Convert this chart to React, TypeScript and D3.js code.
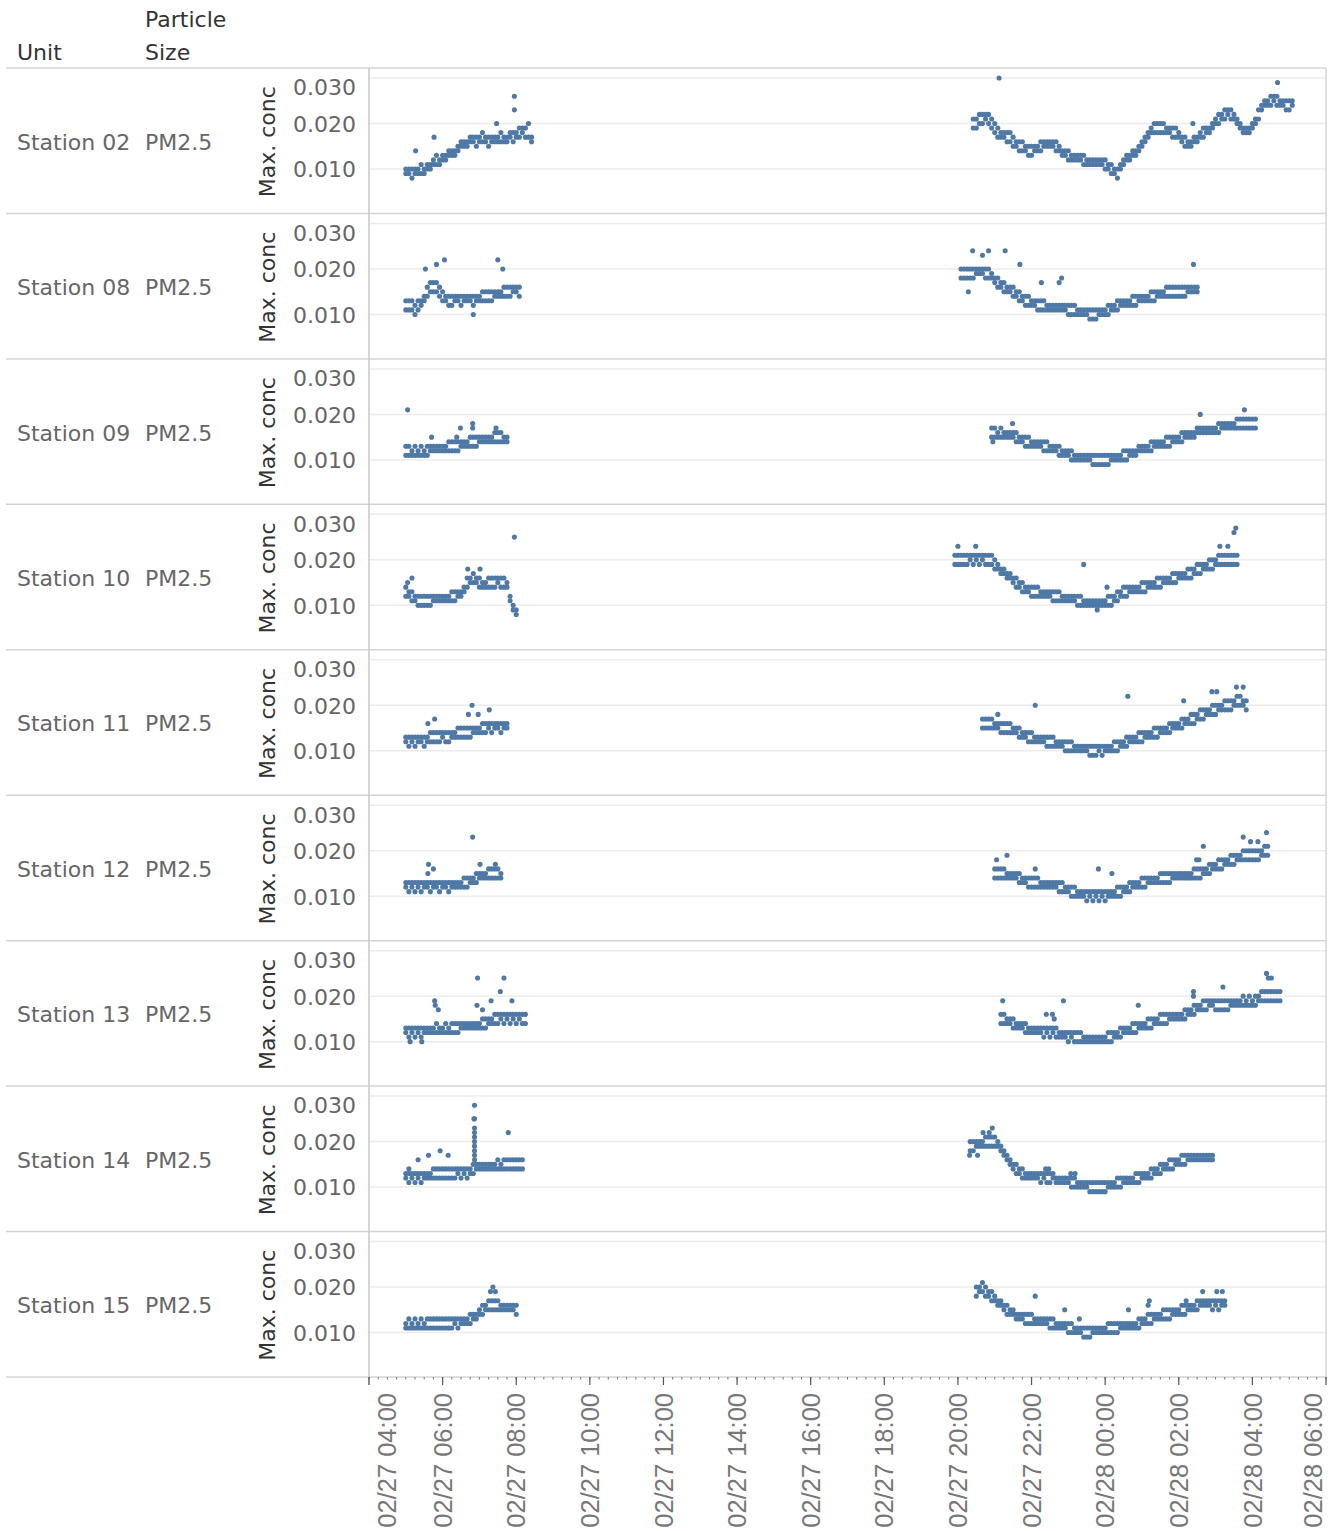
import React from "react";
import * as d3 from "d3";

const parseTime = d3.timeParse("%m/%d %H:%M");
const fmtTick = d3.timeFormat("%m/%d %H:%M");

const unitLabels = ["Station 02", "Station 08", "Station 09", "Station 10", "Station 11", "Station 12", "Station 13", "Station 14", "Station 15"];
const particleSize = "PM2.5";
const yTickValues = [0.01, 0.02, 0.03];
const xDomain = ["02/27 04:00", "02/28 06:00"];

// Max. conc readings, in units of 0.001, one pair (band low / band high) every 5 minutes
const st02Start = ["02/27 05:00", "02/27 20:25"];
const st02EarlyLo = [9,9,8,9,9,9,9,10,10,11,11,11,12,12,13,13,13,14,15,15,15,16,16,15,16,16,16,15,16,16,16,16,16,16,17,16,17,17,18,17,17,16];
const st02EarlyHi = [10,10,10,10,10,11,10,11,11,12,13,12,13,13,14,14,14,15,16,16,16,17,17,17,17,18,17,17,17,17,17,18,17,17,18,18,18,19,19,19,20,17];
const st02LateLo = [19,19,20,20,21,20,19,18,17,17,17,16,16,15,15,14,14,14,13,13,14,14,14,15,15,15,15,14,14,13,13,12,12,12,12,12,11,11,11,11,11,11,11,10,10,9,9,8,10,11,12,12,13,13,14,15,16,17,18,18,18,18,18,18,18,17,17,17,16,15,15,15,16,16,17,17,18,18,19,20,20,21,21,22,21,21,20,19,18,18,18,19,20,21,23,24,24,24,25,24,24,24,23,23,24];
const st02LateHi = [21,21,22,22,22,22,21,20,19,18,18,18,18,17,16,16,16,15,15,15,15,15,16,16,16,16,16,16,15,14,14,14,13,13,13,13,13,12,12,12,12,12,12,12,11,11,10,10,11,12,13,13,14,14,15,16,17,18,19,20,20,20,20,19,19,19,19,18,17,17,16,16,17,17,18,19,19,19,20,21,22,22,23,23,23,22,21,20,19,19,19,20,21,23,24,25,25,26,26,26,25,25,25,25,25];
const st02Outliers: [string, number][] = [["02/27 05:16", 14], ["02/27 05:46", 17], ["02/27 07:28", 20], ["02/27 07:57", 26], ["02/27 07:57", 23], ["02/27 21:07", 30], ["02/28 04:41", 29], ["02/28 02:23", 20]];

const st08Start = ["02/27 05:00", "02/27 20:05"];
const st08EarlyLo = [11,11,11,10,11,12,13,14,15,15,15,14,13,13,12,12,13,13,12,13,13,13,12,13,13,13,13,13,13,14,14,14,14,14,14,15,15,14];
const st08EarlyHi = [13,13,13,12,13,13,14,16,17,17,17,16,15,14,14,14,14,14,14,14,14,14,14,14,14,15,15,15,15,15,15,15,16,16,16,16,16,16];
const st08LateLo = [18,18,18,18,18,19,19,19,18,18,18,17,16,16,15,15,15,14,14,13,13,12,12,12,12,11,11,11,11,11,11,11,11,11,11,10,10,10,10,10,10,10,9,9,9,10,10,10,10,11,11,11,12,12,12,12,12,12,13,13,13,13,13,13,14,14,14,14,14,14,14,14,14,14,15,15,15,15];
const st08LateHi = [20,20,20,20,20,20,20,20,20,20,19,18,18,17,17,16,16,16,15,15,14,14,14,13,13,13,13,13,12,12,12,12,12,12,12,12,12,12,11,11,11,11,11,11,11,11,11,11,12,12,12,13,13,13,13,13,14,14,14,14,14,14,15,15,15,15,15,16,16,16,16,16,16,16,16,16,16,16];
const st08Outliers: [string, number][] = [["02/27 06:03", 22], ["02/27 07:30", 22], ["02/27 05:32", 20], ["02/27 05:50", 21], ["02/27 07:38", 20], ["02/27 06:50", 10], ["02/27 20:24", 24], ["02/27 20:50", 24], ["02/27 21:17", 24], ["02/27 21:41", 21], ["02/27 20:40", 23], ["02/27 22:45", 17], ["02/27 22:16", 17], ["02/27 22:49", 18], ["02/28 02:24", 21], ["02/27 20:17", 15]];

const st09Start = ["02/27 05:00", "02/27 20:55"];
const st09EarlyLo = [11,11,11,11,11,11,11,11,12,12,12,12,12,12,12,12,12,12,13,13,13,13,13,13,14,14,14,14,14,14,14,14,14,14];
const st09EarlyHi = [13,13,12,13,12,13,12,13,13,13,13,13,13,13,14,14,14,14,14,14,14,15,15,15,15,15,15,15,15,16,16,16,15,15];
const st09LateLo = [15,15,15,15,15,15,15,15,14,14,14,13,13,13,13,13,13,12,12,12,12,12,11,11,11,11,10,10,10,10,10,10,10,9,9,9,9,9,9,10,10,10,10,10,10,11,11,11,12,12,12,12,12,13,13,13,13,13,13,14,14,14,14,15,15,15,15,16,16,16,16,16,16,16,16,17,17,17,17,17,17,17,17,17,17,17,17];
const st09LateHi = [17,17,16,17,16,16,16,16,16,15,15,15,15,14,14,14,14,14,14,13,13,13,13,12,12,12,12,11,11,11,11,11,11,11,11,11,11,11,11,11,11,11,11,12,12,12,12,12,13,13,13,13,14,14,14,14,14,15,15,15,15,15,16,16,16,16,16,17,17,17,17,17,17,17,18,18,18,18,18,18,19,19,19,19,19,19,19];
const st09Outliers: [string, number][] = [["02/27 05:03", 21], ["02/27 06:29", 17], ["02/27 06:49", 18], ["02/27 06:49", 17], ["02/27 05:42", 15], ["02/27 06:23", 15], ["02/27 07:27", 17], ["02/28 03:47", 21], ["02/28 02:35", 20], ["02/27 21:29", 18], ["02/27 20:57", 14]];

const st10Start = ["02/27 05:00", "02/27 19:55"];
const st10EarlyLo = [12,12,11,11,10,10,10,10,10,11,11,11,11,11,11,11,11,12,12,13,14,15,15,15,14,14,14,14,14,14,15,14,14,14,11,9,8];
const st10EarlyHi = [14,13,13,12,12,12,12,12,12,12,12,12,12,12,12,13,13,13,13,14,16,16,17,16,16,15,15,16,16,16,16,16,16,15,12,10,9];
const st10LateLo = [19,19,19,19,19,20,19,20,19,20,19,19,19,18,18,17,17,16,16,15,14,14,13,13,13,12,12,12,12,12,12,12,11,11,11,11,11,11,11,11,10,10,10,10,10,10,10,10,10,10,10,10,11,11,12,12,12,13,13,13,13,13,13,14,14,14,14,14,15,15,15,15,15,16,16,16,16,16,17,17,17,18,18,18,18,19,19,19,19,19,19,19,19];
const st10LateHi = [21,21,21,21,21,21,21,21,21,21,21,21,21,20,19,18,18,17,17,16,16,15,15,14,14,14,14,14,13,13,13,13,13,13,13,12,12,12,12,12,12,12,11,11,11,11,11,11,11,11,12,12,12,13,13,14,14,14,14,14,14,15,15,15,15,15,16,16,16,16,16,17,17,17,17,17,18,18,18,19,19,19,19,20,20,20,21,21,21,21,21,21,21];
const st10Outliers: [string, number][] = [["02/27 07:57", 25], ["02/27 05:03", 15], ["02/27 05:10", 16], ["02/27 06:41", 18], ["02/27 07:01", 18], ["02/27 23:25", 19], ["02/28 03:33", 27], ["02/28 03:30", 26], ["02/27 20:29", 23], ["02/27 20:00", 23], ["02/28 03:07", 23], ["02/28 03:20", 23], ["02/28 00:03", 14], ["02/27 23:47", 9]];

const st11Start = ["02/27 05:00", "02/27 20:40"];
const st11EarlyLo = [12,11,12,11,12,12,11,12,12,12,12,12,13,12,12,13,13,13,13,13,13,13,14,14,14,14,14,15,14,15,15,14,15,15];
const st11EarlyHi = [13,13,13,13,13,13,13,13,14,14,14,14,14,14,14,14,14,15,15,15,15,15,15,15,15,16,16,16,16,16,16,16,16,16];
const st11LateLo = [15,15,15,15,15,15,14,14,14,14,14,14,13,13,13,12,12,12,12,12,12,11,11,11,11,11,11,10,10,10,10,10,10,10,10,9,9,9,10,9,10,10,10,10,10,11,11,11,12,12,12,12,12,13,13,13,13,13,14,14,14,14,15,15,15,15,16,16,16,16,17,17,17,18,18,18,18,19,19,19,19,19,20,20,20,20,19];
const st11LateHi = [17,17,17,17,16,16,16,16,16,16,15,15,15,14,14,14,14,13,13,13,13,13,13,13,12,12,12,12,12,12,11,11,11,11,11,11,11,11,11,11,11,11,11,12,12,12,12,13,13,13,13,14,14,14,14,14,15,15,15,15,15,16,16,16,16,17,17,17,18,18,18,19,19,19,19,20,20,20,20,21,21,21,21,22,22,21,21];
const st11Outliers: [string, number][] = [["02/27 06:48", 20], ["02/27 06:42", 18], ["02/27 05:47", 17], ["02/27 05:36", 16], ["02/27 06:58", 18], ["02/27 07:16", 19], ["02/27 22:06", 20], ["02/28 00:37", 22], ["02/28 02:08", 21], ["02/28 02:54", 23], ["02/28 03:02", 23], ["02/28 03:34", 24], ["02/28 03:45", 24], ["02/27 21:05", 18]];

const st12Start = ["02/27 05:00", "02/27 21:00"];
const st12EarlyLo = [12,11,12,11,12,11,12,12,11,12,12,11,12,12,11,12,12,12,12,12,12,13,13,13,14,14,14,14,14,14,14,14];
const st12EarlyHi = [13,13,13,13,13,13,13,13,13,13,13,13,13,13,13,13,13,13,13,14,14,14,14,15,15,15,15,16,16,16,16,15];
const st12LateLo = [14,14,14,14,14,14,14,14,13,13,13,12,12,12,12,12,12,12,12,12,12,11,11,11,11,10,10,10,10,10,9,10,9,10,9,10,9,10,10,10,10,10,11,11,11,12,12,12,12,12,13,13,13,13,13,13,13,13,14,14,14,14,14,14,14,14,14,14,15,15,15,16,16,16,16,17,17,17,17,18,18,18,18,18,18,18,18,19,19,19];
const st12LateHi = [16,16,16,16,15,15,15,15,15,14,14,14,14,14,14,13,13,13,13,13,13,13,13,12,12,12,12,11,11,11,11,11,11,11,11,11,11,11,11,11,12,12,12,12,13,13,13,13,14,14,14,14,14,14,15,15,15,15,15,15,15,15,15,15,15,16,16,16,16,16,17,17,17,18,18,18,18,19,19,19,19,20,20,20,20,20,20,20,21,21];
const st12Outliers: [string, number][] = [["02/27 06:49", 23], ["02/27 05:37", 17], ["02/27 05:36", 15], ["02/27 05:45", 16], ["02/27 07:01", 17], ["02/27 07:26", 17], ["02/27 21:20", 19], ["02/27 21:03", 18], ["02/27 22:06", 16], ["02/27 23:49", 16], ["02/28 00:11", 15], ["02/28 02:40", 21], ["02/28 03:45", 23], ["02/28 04:23", 24], ["02/28 04:09", 22], ["02/28 03:57", 22], ["02/28 02:29", 18], ["02/28 02:33", 18]];

const st13Start = ["02/27 05:00", "02/27 21:10"];
const st13EarlyLo = [12,11,12,11,12,11,12,12,12,12,12,12,12,12,12,12,12,12,13,13,13,13,13,13,13,13,13,14,14,14,14,15,14,15,14,15,14,15,14,14];
const st13EarlyHi = [13,13,13,13,13,13,13,13,13,13,14,13,13,14,13,14,14,14,14,14,14,14,14,14,14,15,15,15,15,16,16,16,16,16,16,16,16,16,16,16];
const st13LateLo = [14,14,14,14,13,13,13,13,12,12,12,12,12,12,11,12,11,12,11,11,11,11,10,11,10,10,10,10,10,10,10,10,10,10,10,10,10,11,11,11,12,12,12,12,12,13,13,13,13,13,14,14,14,14,14,15,15,15,15,15,15,16,16,16,17,17,17,17,18,18,17,17,17,17,17,18,18,18,18,18,18,18,18,18,19,19,19,19,19,19,19,19];
const st13LateHi = [16,16,15,15,15,14,14,14,14,13,13,13,13,13,13,13,13,13,13,12,12,12,12,12,12,12,12,11,11,11,11,11,11,11,11,12,12,12,12,13,13,13,13,14,14,14,14,14,15,15,15,15,16,16,16,16,16,16,16,16,17,17,17,18,18,18,19,19,19,19,19,19,19,19,19,19,19,19,19,20,19,20,19,20,20,21,21,21,21,21,21,21];
const st13Outliers: [string, number][] = [["02/27 06:57", 24], ["02/27 07:40", 24], ["02/27 07:34", 21], ["02/27 05:47", 19], ["02/27 05:48", 18], ["02/27 05:53", 17], ["02/27 06:56", 18], ["02/27 07:05", 17], ["02/27 07:19", 19], ["02/27 07:53", 19], ["02/27 05:07", 10], ["02/27 05:26", 10], ["02/27 21:13", 19], ["02/27 22:52", 19], ["02/28 00:54", 18], ["02/28 02:24", 21], ["02/28 02:24", 20], ["02/28 03:12", 22], ["02/28 04:23", 25], ["02/28 04:26", 24], ["02/28 04:31", 24], ["02/27 22:24", 16], ["02/27 22:34", 16], ["02/27 22:37", 15]];

const st14Start = ["02/27 05:00", "02/27 20:20"];
const st14EarlyLo = [12,11,12,11,12,11,12,12,12,12,12,12,12,12,12,12,12,13,12,13,12,13,13,14,14,14,14,14,14,14,14,14,14,14,14,14,14,14,14];
const st14EarlyHi = [13,13,13,13,13,13,13,13,13,14,14,14,14,14,14,14,14,14,14,14,14,14,15,15,15,15,15,15,15,15,16,15,16,16,16,16,16,16,16];
const st14LateLo = [18,18,19,19,19,19,19,19,19,19,18,17,16,15,14,13,13,12,12,12,12,12,12,11,12,11,11,12,11,11,11,11,11,10,10,10,10,10,10,9,9,9,9,9,9,10,10,10,10,10,11,11,11,11,11,11,12,12,12,12,13,13,13,14,14,14,14,15,15,15,15,16,16,16,16,16,16,16,16,16];
const st14LateHi = [20,20,20,20,20,21,21,21,21,20,19,18,17,16,15,15,14,14,13,13,13,13,13,13,13,13,13,13,12,12,12,12,12,12,12,11,11,11,11,11,11,11,11,11,11,11,11,11,12,12,12,12,12,12,13,13,13,13,13,14,14,14,15,15,15,16,16,16,16,17,17,17,17,17,17,17,17,17,17,17];
const st14Outliers: [string, number][] = [["02/27 06:52", 28], ["02/27 06:52", 25], ["02/27 06:51", 25], ["02/27 06:52", 23], ["02/27 06:52", 22], ["02/27 06:52", 21], ["02/27 06:52", 20], ["02/27 06:52", 19], ["02/27 06:52", 18], ["02/27 06:52", 17], ["02/27 06:52", 16], ["02/27 07:47", 22], ["02/27 05:56", 18], ["02/27 05:37", 17], ["02/27 06:09", 17], ["02/27 05:20", 16], ["02/27 05:05", 14], ["02/27 20:56", 23], ["02/27 20:51", 22], ["02/27 20:41", 22], ["02/27 20:19", 17], ["02/27 20:32", 17], ["02/27 22:23", 14], ["02/27 22:28", 14], ["02/27 23:04", 13], ["02/27 23:11", 13]];

const st15Start = ["02/27 05:00", "02/27 20:30"];
const st15EarlyLo = [11,11,11,11,11,11,11,11,11,11,11,11,11,11,11,11,12,11,12,12,12,12,13,13,14,14,15,15,15,15,15,15,15,15,15,15,14];
const st15EarlyHi = [12,13,12,13,12,13,12,13,13,13,13,13,13,13,13,13,13,13,13,13,13,14,14,14,15,16,16,17,17,17,17,16,16,16,16,16,16];
const st15LateLo = [18,19,19,18,18,17,17,16,16,15,14,14,14,13,13,13,12,12,12,12,12,12,12,12,11,11,11,11,11,11,10,10,10,10,10,9,9,9,10,10,10,10,10,10,10,10,10,11,11,11,11,11,11,11,12,12,12,12,13,13,13,13,13,13,14,14,14,14,14,15,15,15,15,16,16,16,16,15,16,15,16,16];
const st15LateHi = [20,20,21,20,19,19,18,17,17,16,16,15,15,14,14,14,14,14,14,13,13,13,13,13,13,13,12,12,12,12,12,12,11,11,11,11,11,11,11,11,11,11,11,12,12,12,12,12,12,12,12,12,12,13,13,13,14,14,14,14,14,15,15,15,15,15,15,16,16,16,16,16,17,17,17,17,17,17,17,17,17,17];
const st15Outliers: [string, number][] = [["02/27 07:18", 19], ["02/27 07:22", 20], ["02/27 07:26", 19], ["02/27 22:06", 18], ["02/27 22:54", 15], ["02/27 23:18", 13], ["02/28 00:38", 15], ["02/28 01:12", 17], ["02/28 01:10", 16], ["02/28 02:12", 17], ["02/28 02:39", 19], ["02/28 03:02", 19], ["02/28 03:11", 19]];

const stationTable = [
  { starts: st02Start, lo: [st02EarlyLo, st02LateLo], hi: [st02EarlyHi, st02LateHi], outliers: st02Outliers },
  { starts: st08Start, lo: [st08EarlyLo, st08LateLo], hi: [st08EarlyHi, st08LateHi], outliers: st08Outliers },
  { starts: st09Start, lo: [st09EarlyLo, st09LateLo], hi: [st09EarlyHi, st09LateHi], outliers: st09Outliers },
  { starts: st10Start, lo: [st10EarlyLo, st10LateLo], hi: [st10EarlyHi, st10LateHi], outliers: st10Outliers },
  { starts: st11Start, lo: [st11EarlyLo, st11LateLo], hi: [st11EarlyHi, st11LateHi], outliers: st11Outliers },
  { starts: st12Start, lo: [st12EarlyLo, st12LateLo], hi: [st12EarlyHi, st12LateHi], outliers: st12Outliers },
  { starts: st13Start, lo: [st13EarlyLo, st13LateLo], hi: [st13EarlyHi, st13LateHi], outliers: st13Outliers },
  { starts: st14Start, lo: [st14EarlyLo, st14LateLo], hi: [st14EarlyHi, st14LateHi], outliers: st14Outliers },
  { starts: st15Start, lo: [st15EarlyLo, st15LateLo], hi: [st15EarlyHi, st15LateHi], outliers: st15Outliers },
];

// layout
const W = 1332;
const H = 1531;
const plotLeft = 369;
const plotRight = 1326;
const firstRowTop = 68;
const lastRowBottom = 1377;
const rowH = (lastRowBottom - firstRowTop) / unitLabels.length;

const DOT = "#4e79a7";
const TEXT_DARK = "#333";
const TEXT_MID = "#666";
const SEP = "#d4d4d4";
const GRID = "#ececec";
const FONT = "'DejaVu Sans', 'Noto Sans', sans-serif";
const AXIS_FONT = "'Liberation Sans', Arial, sans-serif";

function buildPoints(st: typeof stationTable[number]) {
  const pts: { t: Date; v: number }[] = [];
  st.starts.forEach((s, si) => {
    const t0 = parseTime(s)!;
    st.lo[si].forEach((v, i) => {
      const t = d3.timeMinute.offset(t0, 5 * i);
      pts.push({ t, v: v / 1000 });
      pts.push({ t, v: st.hi[si][i] / 1000 });
    });
  });
  st.outliers.forEach(([s, v]) => pts.push({ t: parseTime(s)!, v: v / 1000 }));
  return pts;
}

export default function App() {
  const x = d3.scaleTime()
    .domain(xDomain.map(s => parseTime(s)!))
    .range([plotLeft, plotRight]);

  const y = d3.scaleLinear()
    .domain([0.00023, 0.0322])
    .range([rowH, 0]);

  const majorTicks = x.ticks(d3.timeHour.every(2)!);
  const minorTicks = x.ticks(d3.timeMinute.every(15)!);

  return (
    <div style={{ position: "absolute", left: 0, top: 0, background: "#fff" }}>
      <svg width={W} height={H} style={{ display: "block" }}>
        <rect width={W} height={H} fill="#fff" />

        {/* header */}
        <g fontFamily={FONT} fontSize={22} fill={TEXT_DARK}>
          <text x={17} y={60}>Unit</text>
          <text x={145} y={27}>Particle</text>
          <text x={145} y={60}>Size</text>
        </g>

        {/* rows */}
        {unitLabels.map((unit, r) => {
          const top = firstRowTop + r * rowH;
          const pts = buildPoints(stationTable[r]);
          return (
            <g key={unit} transform={`translate(0,${top})`}>
              {yTickValues.map(v => (
                <line key={v} x1={plotLeft} x2={plotRight} y1={y(v)} y2={y(v)} stroke={GRID} strokeWidth={1.5} />
              ))}
              <text x={17} y={rowH / 2 + 1} dy="0.36em" fontFamily={FONT} fontSize={22} fill={TEXT_MID}>{unit}</text>
              <text x={145} y={rowH / 2 + 1} dy="0.36em" fontFamily={FONT} fontSize={22} fill={TEXT_MID}>{particleSize}</text>
              <text
                transform={`translate(267,${rowH / 2 + 1}) rotate(-90)`}
                textAnchor="middle"
                dy="0.36em"
                fontFamily={FONT}
                fontSize={22}
                fill={TEXT_DARK}
              >
                Max. conc
              </text>
              {yTickValues.map(v => (
                <text
                  key={v}
                  x={356}
                  y={Math.max(y(v), 19)}
                  dy="0.38em"
                  textAnchor="end"
                  fontFamily={FONT}
                  fontSize={22}
                  fill={TEXT_MID}
                >
                  {d3.format(".3f")(v)}
                </text>
              ))}
              {pts.map((p, i) => (
                <circle key={i} cx={x(p.t)} cy={y(p.v)} r={2.55} fill={DOT} />
              ))}
              <line x1={6} x2={plotRight} y1={rowH} y2={rowH} stroke={SEP} strokeWidth={1.5} />
            </g>
          );
        })}

        {/* frame lines */}
        <line x1={6} x2={plotRight} y1={firstRowTop} y2={firstRowTop} stroke={SEP} strokeWidth={1.5} />
        <line x1={plotLeft} x2={plotLeft} y1={firstRowTop} y2={lastRowBottom + 8} stroke="#c8c8c8" strokeWidth={1.5} />
        <line x1={plotRight} x2={plotRight} y1={firstRowTop} y2={lastRowBottom} stroke={SEP} strokeWidth={1.5} />

        {/* x axis */}
        <g>
          {minorTicks.map((t, i) => (
            <line key={i} x1={x(t)} x2={x(t)} y1={lastRowBottom} y2={lastRowBottom + 2.5} stroke="#777" strokeWidth={1} />
          ))}
          {majorTicks.map((t, i) => (
            <line key={i} x1={x(t)} x2={x(t)} y1={lastRowBottom} y2={lastRowBottom + 8} stroke="#555" strokeWidth={1.2} />
          ))}
          {majorTicks.map((t, i) => {
            let cx = x(t);
            if (i === 0) cx += 18;
            if (i === majorTicks.length - 1) cx -= 13;
            return (
              <text
                key={i}
                transform={`translate(${cx},${lastRowBottom + 16}) rotate(-90)`}
                textAnchor="end"
                dy="0.36em"
                fontFamily={AXIS_FONT}
                fontSize={25.5}
                fill="#777"
              >
                {fmtTick(t)}
              </text>
            );
          })}
        </g>
      </svg>
    </div>
  );
}
